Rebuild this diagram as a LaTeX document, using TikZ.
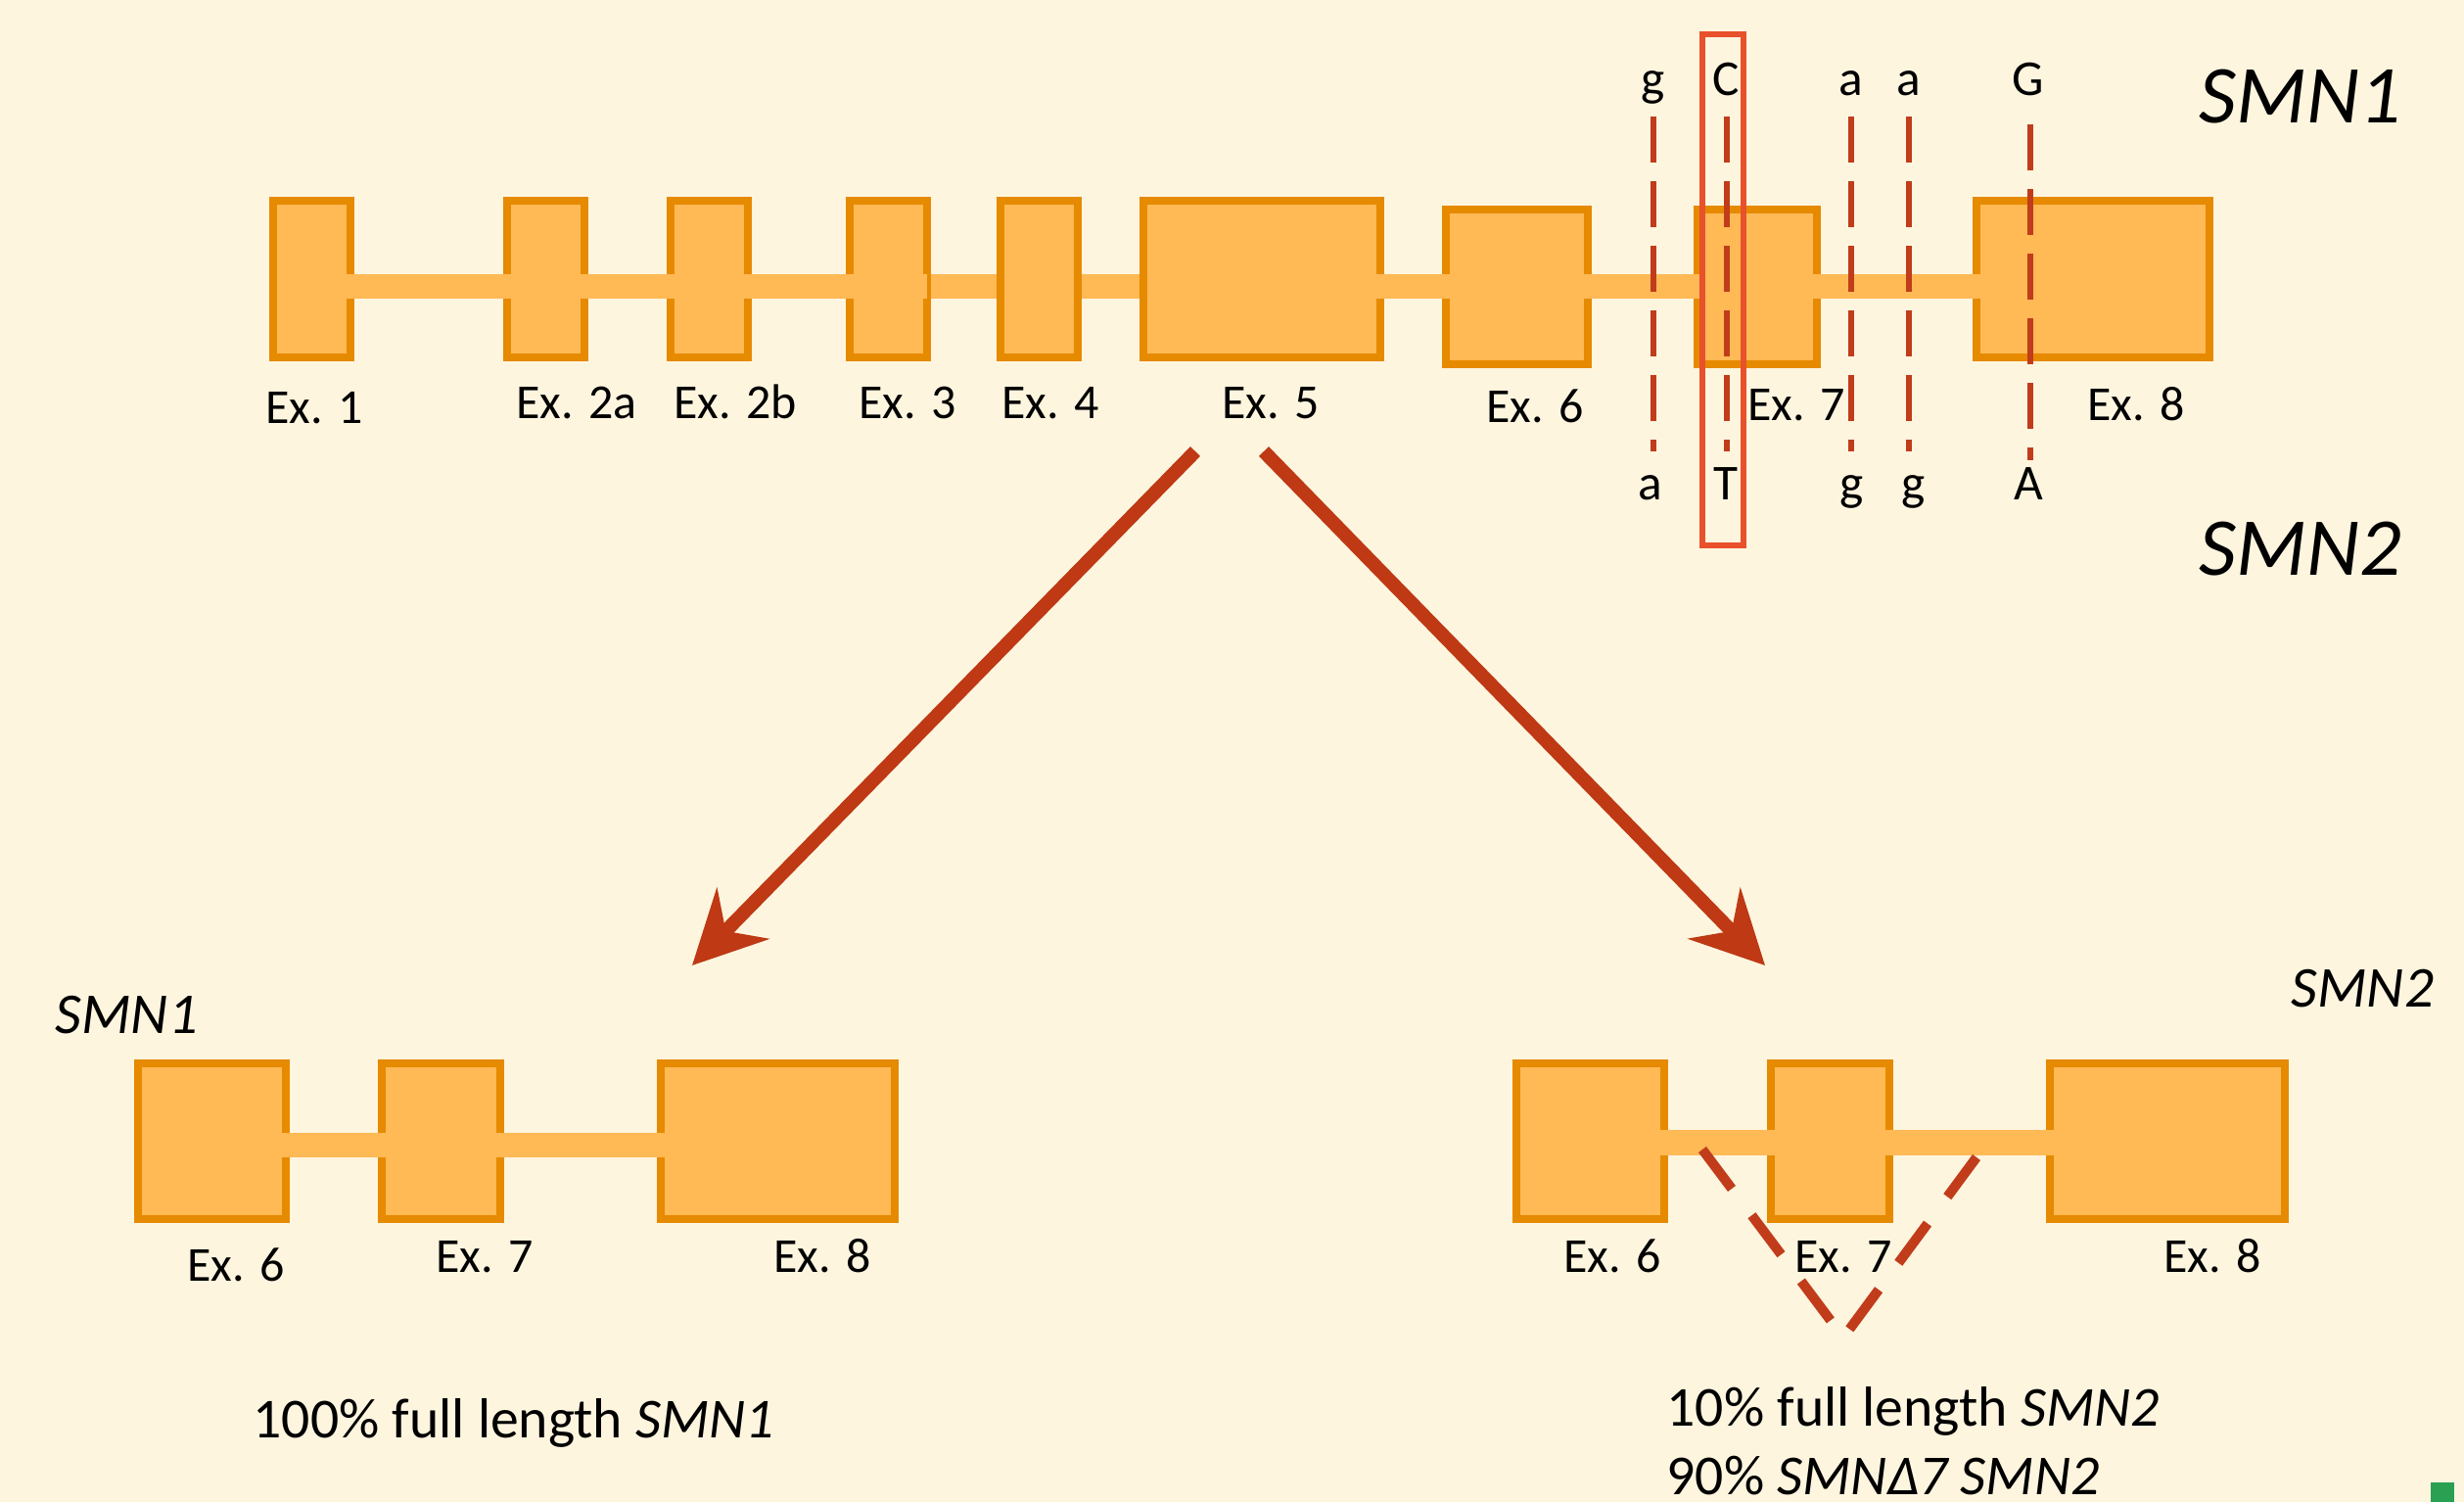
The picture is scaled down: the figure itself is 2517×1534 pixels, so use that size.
\documentclass[tikz,border=0pt]{standalone}
\usepackage{fontspec}
\setmainfont{Carlito}
\usetikzlibrary{arrows.meta}
\definecolor{bgc}{HTML}{FEF5DF}
\definecolor{exonfill}{HTML}{FFB955}
\definecolor{exonline}{HTML}{E68A00}
\definecolor{arrowc}{HTML}{BE3914}
\definecolor{snpc}{HTML}{C13C1B}
\definecolor{boxc}{HTML}{E8512B}
\definecolor{greenc}{HTML}{2AA052}
\newcommand\exonbox[5]{%
  \pgfmathsetmacro\exCX{(#2+#4)/2}%
  \pgfmathsetmacro\exCY{(#3+#5)/2}%
  \pgfmathsetmacro\exW{(#4-#2-8)/100}%
  \pgfmathsetmacro\exH{(#5-#3-8)/100}%
  \node[exon, minimum width=\exW cm, minimum height=\exH cm] (#1) at (\exCX,\exCY) {};}
\begin{document}
\begin{tikzpicture}[x=0.01cm,y=-0.01cm,
  exon/.style={draw=exonline, fill=exonfill, line width=0.08cm, inner sep=0pt, outer sep=0pt},
  intron/.style={draw=exonfill, line width=0.25cm, shorten <=-0.045cm, shorten >=-0.045cm},
  intronin/.style={draw=exonfill, line width=0.25cm, shorten <=0.04cm, shorten >=0.04cm},
  lbl/.style={anchor=base, inner sep=0pt, font=\fontsize{14.2}{17}\selectfont},
  nuc/.style={anchor=base, inner sep=0pt, font=\fontsize{14.6}{17}\selectfont},
  snp/.style={draw=snpc, line width=0.06cm, dash pattern=on 0.47cm off 0.19cm},
  vdash/.style={draw=snpc, line width=0.10cm, dash pattern=on 0.5cm off 0.34cm},
  bigarrow/.style={draw=arrowc, line width=0.14cm, -{Stealth[length=0.74cm, width=0.74cm, inset=0.25cm, fill=arrowc]}},
  bigname/.style={anchor=base west, inner sep=0pt, font=\fontsize{23.9}{28}\selectfont\itshape},
  midname/.style={anchor=base west, inner sep=0pt, font=\fontsize{16.8}{20}\selectfont\itshape},
  capt/.style={anchor=base west, inner sep=0pt, font=\fontsize{16.4}{20}\selectfont}]
\fill[bgc] (0,0) rectangle (2517,1534);
\useasboundingbox (0,0) rectangle (2517,1534);

% ---------- top gene ----------
\coordinate (barT) at (0,292.5);
\exonbox{e1}{275}{201}{362}{369}
\exonbox{e2a}{514}{201}{601}{369}
\exonbox{e2b}{681}{201}{768}{369}
\exonbox{e3}{864}{201}{951}{369}
\exonbox{e4}{1018}{201}{1105}{369}
\exonbox{e5}{1164}{201}{1414}{369}
\exonbox{e6}{1473}{210}{1626}{376}
\exonbox{e7}{1730}{210}{1860}{376}
\exonbox{e8}{2015}{201}{2261}{369}
\draw[intron] (e1.east |- barT) -- (e2a.west |- barT);
\draw[intron] (e2a.east |- barT) -- (e2b.west |- barT);
\draw[intron] (e2b.east |- barT) -- (e3.west |- barT);
\draw[intronin] (e3.east |- barT) -- (e4.west |- barT);
\draw[intronin] (e4.east |- barT) -- (e5.west |- barT);
\draw[intron] (e5.east |- barT) -- (e6.west |- barT);
\draw[intron] (e6.east |- barT) -- (e7.west |- barT);
\draw[intron] (e7.east |- barT) -- (e8.west |- barT);
\draw[exonfill, line width=0.25cm] ([xshift=-0.045cm]e3.east |- barT) -- (e3.east |- barT);

\node[lbl] (l1) at (321,433) {Ex. 1};
\node[lbl] (l2a) at (589,428) {Ex. 2a};
\node[lbl] (l2b) at (751,428) {Ex. 2b};
\node[lbl] (l3) at (927,428) {Ex. 3};
\node[lbl] (l4) at (1073,428) {Ex. 4};
\node[lbl] (l5) at (1298,428) {Ex. 5};
\node[lbl] (l6) at (1568,432) {Ex. 6};
\node[lbl] (l7) at (1835,430) {Ex. 7};
\node[lbl] (l8) at (2182,430) {Ex. 8};

% SNP dashed lines
\coordinate (s1a) at (1689,119); \coordinate (s1b) at (1689,461);
\coordinate (s2a) at (1764,119); \coordinate (s2b) at (1764,461);
\coordinate (s3a) at (1891,119); \coordinate (s3b) at (1891,461);
\coordinate (s4a) at (1950,119); \coordinate (s4b) at (1950,461);
\coordinate (s5a) at (2074,127); \coordinate (s5b) at (2074,470);
\draw[snp] (s1a) -- (s1b);
\draw[snp] (s2a) -- (s2b);
\draw[snp] (s3a) -- (s3b);
\draw[snp] (s4a) -- (s4b);
\draw[snp] (s5a) -- (s5b);

\node[nuc] (n1t) at (1689,98) {g};
\node[nuc] (n2t) at (1763,98) {C};
\node[nuc] (n3t) at (1891,98) {a};
\node[nuc] (n4t) at (1950,98) {a};
\node[nuc] (n5t) at (2072,98) {G};
\node[nuc] (n1b) at (1686,511) {a};
\node[nuc] (n2b) at (1763,511) {T};
\node[nuc] (n3b) at (1892,511) {g};
\node[nuc] (n4b) at (1955,511) {g};
\node[nuc] (n5b) at (2072,511) {A};

\draw[boxc, line width=0.06cm] (1739,35) rectangle (1781,557);

\node[bigname] (smn1top) at (2246,126) {SMN1};
\node[bigname] (smn2top) at (2246,588) {SMN2};

% ---------- arrows ----------
\coordinate (aLs) at (1221,461); \coordinate (aLe) at (707,986);
\coordinate (aRs) at (1291,461); \coordinate (aRe) at (1803,986);
\draw[bigarrow] (aLs) -- (aLe);
\draw[bigarrow] (aRs) -- (aRe);

% ---------- bottom left (SMN1) ----------
\coordinate (barL) at (0,1169.5);
\exonbox{b6}{137}{1082}{296}{1249}
\exonbox{b7}{386}{1082}{515}{1249}
\exonbox{b8}{671}{1082}{918}{1249}
\draw[intron] (b6.east |- barL) -- (b7.west |- barL);
\draw[intron] (b7.east |- barL) -- (b8.west |- barL);
\node[lbl] (lb6) at (241,1308) {Ex. 6};
\node[lbl] (lb7) at (495,1300) {Ex. 7};
\node[lbl] (lb8) at (840,1300) {Ex. 8};
\node[midname] (smn1bl) at (56,1056) {SMN1};
\node[capt] (capL) at (258,1468) {100\% full length \textit{SMN1}};

% ---------- bottom right (SMN2) ----------
\coordinate (barR) at (0,1167);
\exonbox{c6}{1545}{1082}{1704}{1249}
\exonbox{c7}{1805}{1082}{1934}{1249}
\exonbox{c8}{2090}{1082}{2338}{1249}
\draw[intron] (c6.east |- barR) -- (c7.west |- barR);
\draw[intron] (c7.east |- barR) -- (c8.west |- barR);
\coordinate (vL) at (1739,1174);
\coordinate (vR) at (2019,1182);
\coordinate (vA) at (1883,1366);
\draw[vdash] (vL) -- (vA);
\draw[vdash] (vR) -- (vA);
\node[lbl] (lc6) at (1647,1300) {Ex. 6};
\node[lbl] (lc7) at (1883,1300) {Ex. 7};
\node[lbl] (lc8) at (2260,1300) {Ex. 8};
\node[midname] (smn2br) at (2340,1029) {SMN2};
\node[capt] (capR1) at (1702,1456) {10\% full length \textit{SMN2}};
\node[capt] (capR2) at (1702,1526) {90\% \textit{SMNΔ7 SMN2}};

\fill[greenc] (2483,1514) rectangle (2507,1534);
\end{tikzpicture}
\end{document}
